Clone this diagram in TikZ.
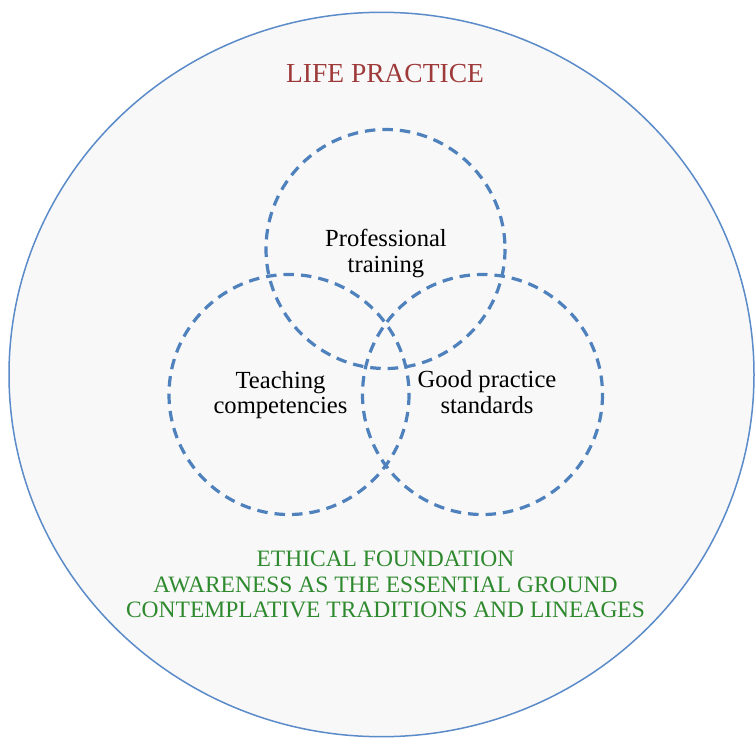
\documentclass[tikz,border=0pt]{standalone}
\usepackage{fontspec}
\setmainfont{Liberation Serif}
\definecolor{rimblue}{HTML}{5B8BC9}
\definecolor{dashblue}{HTML}{4F81BD}
\definecolor{paper}{HTML}{F8F8F8}
\definecolor{lifered}{HTML}{9E3A3A}
\definecolor{groundgreen}{HTML}{2F8A2F}
\tikzset{
  fieldring/.style={draw=rimblue, line width=1.5pt, fill=paper},
  ringdash/.style={draw=dashblue, line width=3.2pt, dash pattern=on 10.5pt off 7pt},
  areatext/.style={align=center, inner sep=0pt, text=black,
    font=\fontsize{24.6}{25.5}\selectfont},
  lifetitle/.style={inner sep=0pt, text=lifered, font=\fontsize{27.5}{30}\selectfont},
  groundtext/.style={align=center, inner sep=0pt, text=groundgreen,
    font=\fontsize{23.5}{25.3}\selectfont}
}
\begin{document}
\begin{tikzpicture}[x=1pt,y=-1pt]
  \useasboundingbox (0,0) rectangle (755,738);
  % outer field
  \draw[fieldring] (381.5,374.5) ellipse [x radius=372.5, y radius=362.2];
  \node[lifetitle, anchor=base] (life) at (385,82.3) {LIFE PRACTICE};
  % three overlapping areas
  \draw[ringdash] (385.5,249) circle [radius=119.5];
  \draw[ringdash] (289,394.5) circle [radius=120];
  \draw[ringdash] (482.5,394.5) circle [radius=120];
  \node[areatext] (prof) at (386,253.4) {Professional\\training};
  \node[areatext] (teach) at (280.5,394.9) {Teaching\\competencies};
  \node[areatext] (good) at (487,392.3) {Good practice\\standards};
  % foundation text
  \node[groundtext] (found) at (385.5,584.5)
    {ETHICAL FOUNDATION\\AWARENESS AS THE ESSENTIAL GROUND\\CONTEMPLATIVE TRADITIONS AND LINEAGES};
\end{tikzpicture}
\end{document}
